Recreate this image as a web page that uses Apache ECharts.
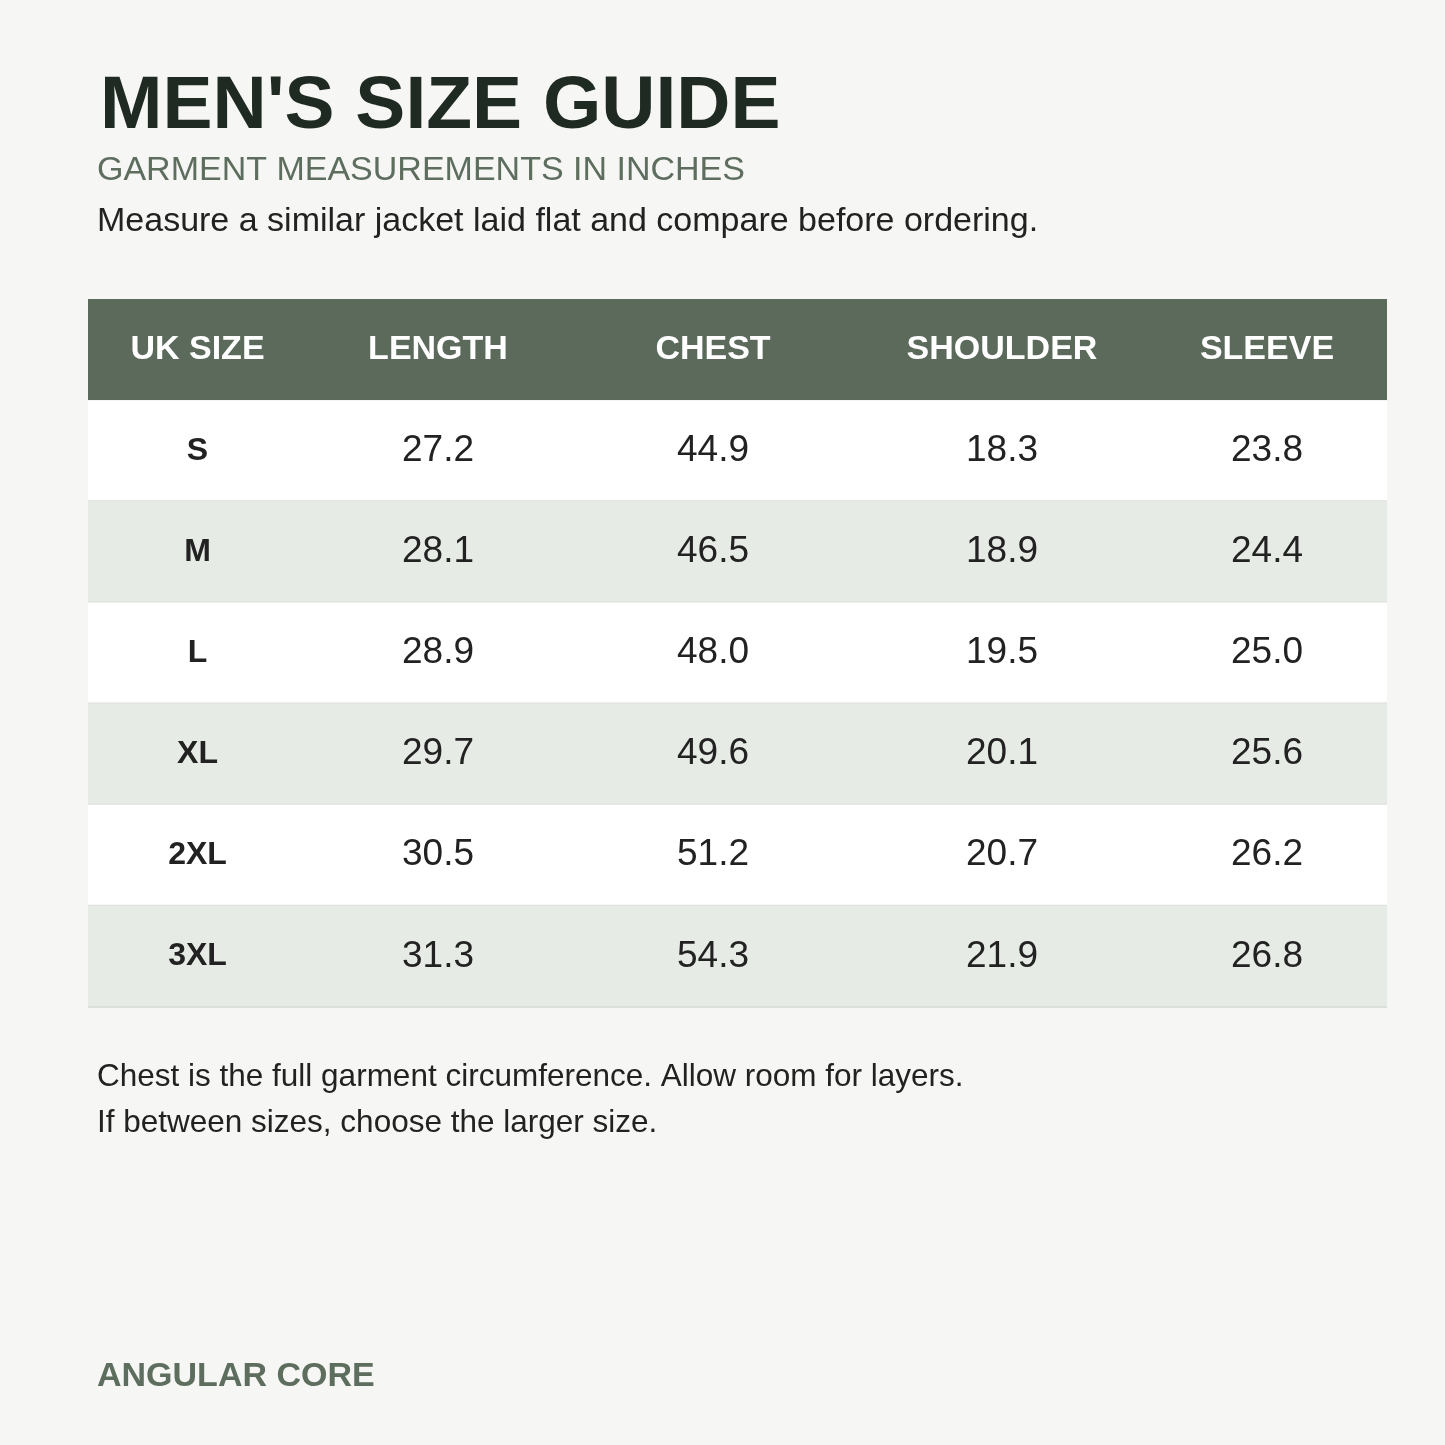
<!DOCTYPE html>
<html>
<head>
<meta charset="utf-8">
<script src="https://cdn.jsdelivr.net/npm/echarts@6/dist/echarts.min.js"></script>
<style>
  html, body { margin: 0; padding: 0; background: #f6f6f4; }
  #main { width: 1445px; height: 1445px; }
</style>
</head>
<body>
<div id="main"></div>
<script>
const columns = ['UK SIZE', 'LENGTH', 'CHEST', 'SHOULDER', 'SLEEVE'];
const sizes = ['S', 'M', 'L', 'XL', '2XL', '3XL'];
const length = [27.2, 28.1, 28.9, 29.7, 30.5, 31.3];
const chest = [44.9, 46.5, 48.0, 49.6, 51.2, 54.3];
const shoulder = [18.3, 18.9, 19.5, 20.1, 20.7, 21.9];
const sleeve = [23.8, 24.4, 25.0, 25.6, 26.2, 26.8];
// relative column widths
const colWeights = [219, 262, 288, 290, 240];

const colStart = [];
let acc = 0;
colWeights.forEach(w => { colStart.push(acc); acc += w; });
const total = acc;

const rowNames = ['head'].concat(sizes);
const cells = [];
columns.forEach((c, ci) => cells.push([colStart[ci], colStart[ci] + colWeights[ci], 0, c]));
sizes.forEach((s, ri) => {
    const vals = [s, length[ri].toFixed(1), chest[ri].toFixed(1), shoulder[ri].toFixed(1), sleeve[ri].toFixed(1)];
    vals.forEach((v, ci) => cells.push([colStart[ci], colStart[ci] + colWeights[ci], ri + 1, v]));
});

const chart = echarts.init(document.getElementById('main'));
chart.setOption({
    backgroundColor: '#f6f6f4',
    grid: { left: 88, right: 58, top: 299, height: 708 },
    xAxis: { type: 'value', min: 0, max: total, show: false },
    yAxis: { type: 'category', data: rowNames, inverse: true, show: false },
    graphic: [
        { type: 'text', left: 100, top: 70, style: { text: "MEN'S SIZE GUIDE", font: 'bold 75px "Liberation Sans", Arial', fill: '#1f2a22' } },
        { type: 'text', left: 97, top: 154, style: { text: 'GARMENT MEASUREMENTS IN INCHES', font: '34px "Liberation Sans", Arial', fill: '#5e6e5e' } },
        { type: 'text', left: 97, top: 205, style: { text: 'Measure a similar jacket laid flat and compare before ordering.', font: '34px "Liberation Sans", Arial', fill: '#222' } },
        { type: 'text', left: 97, top: 1061, style: { text: 'Chest is the full garment circumference. Allow room for layers.', font: '31.5px "Liberation Sans", Arial', fill: '#222' } },
        { type: 'text', left: 97, top: 1107, style: { text: 'If between sizes, choose the larger size.', font: '31.5px "Liberation Sans", Arial', fill: '#222' } },
        { type: 'text', left: 97, top: 1360, style: { text: 'ANGULAR CORE', font: 'bold 34px "Liberation Sans", Arial', fill: '#5e6e5e' } }
    ],
    series: [{
        type: 'custom',
        data: cells,
        renderItem: (params, api) => {
            const row = api.value(2);
            const p0 = api.coord([api.value(0), row]);
            const p1 = api.coord([api.value(1), row]);
            const h = api.size([0, 1])[1];
            const x = p0[0], w = p1[0] - p0[0], y = p0[1] - h / 2;
            const txt = cells[params.dataIndex][3];
            let fill, color, font;
            if (row === 0) {
                fill = '#5b6a5b'; color = '#ffffff'; font = 'bold 34px "Liberation Sans", Arial';
            } else {
                fill = row % 2 === 1 ? '#ffffff' : '#e7ebe5';
                color = '#222';
                font = (api.value(0) === 0 ? 'bold 32px' : '37px') + ' "Liberation Sans", Arial';
            }
            const children = [
                { type: 'rect', shape: { x, y, width: w, height: h }, style: { fill } },
                { type: 'text', style: { text: txt, x: x + w / 2, y: p0[1], align: 'center', verticalAlign: 'middle', font, fill: color } }
            ];
            if (row > 0) {
                children.push({ type: 'line', shape: { x1: x, y1: y + h, x2: x + w, y2: y + h }, style: { stroke: '#dcdfdb', lineWidth: 2 } });
            }
            return { type: 'group', children };
        }
    }]
});
</script>
</body>
</html>
